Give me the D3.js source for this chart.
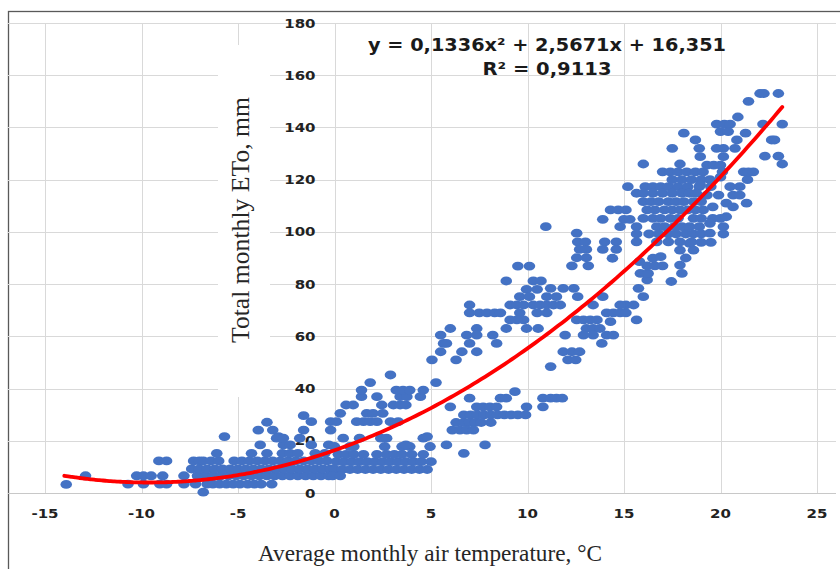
<!DOCTYPE html>
<html>
<head>
<meta charset="utf-8">
<script src="https://cdn.jsdelivr.net/npm/d3@7"></script>
<style>
  body { margin: 0; background: #fff; }
  svg { display: block; }
</style>
</head>
<body>
<svg id="chart"></svg>
<script>
// axis ticks
const xTicks = [-15, -10, -5, 0, 5, 10, 15, 20, 25];
const yTicks = [0, 20, 40, 60, 80, 100, 120, 140, 160, 180];

// polynomial trendline, as printed on the chart: c0 + c1*x + c2*x^2
const trendCoef = [16.351, 2.5671, 0.1336];
const trendRange = [-14, 23.2];
const equationText = 'y = 0,1336x² + 2,5671x + 16,351';
const r2Text = 'R² = 0,9113';

// [average monthly temperature °C, total monthly ETo mm]
const coldPoints = [
  [-13.9,3.3],[-12.9,6.6],[-10.7,3.4],[-10.25,6.6],[-9.9,6.6],[-9.5,6.6],[-9.9,3.4],
  [-9.1,12.3],[-8.7,12.3],[-8.9,6.6],[-9.05,3.4],[-8.7,3.4],[-7.8,3.4],[-7.8,6.6],
  [-7.4,9.2],[-7.3,12.3],[-7.0,12.3],[-6.8,0.3]
];

const winterPoints = [
  [-7.2,3.4],[-6.6,3.4],[-6.3,3.4],[-5.95,3.4],[-5.6,3.4],[-5.25,3.4],[-4.9,3.4],[-4.5,3.4],
  [-4.15,3.4],[-3.8,3.4],[-3.25,3.4],
  [-7.1,6.6],[-6.7,6.6],[-6.3,6.6],[-5.9,6.6],[-5.5,6.6],[-5.1,6.6],[-4.7,6.6],[-4.3,6.6],
  [-3.9,6.6],[-3.5,6.6],[-3.1,6.6],[-2.7,6.6],[-2.3,6.6],[-1.9,6.6],[-1.5,6.6],[-1.1,6.6],
  [-0.7,6.6],[-0.3,6.6],
  [-7.0,9.2],[-6.6,9.2],[-6.2,9.2],[-5.8,9.2],[-5.4,9.2],[-5.0,9.2],[-4.6,9.2],[-4.2,9.2],
  [-3.8,9.2],[-3.4,9.2],[-3.0,9.2],[-2.6,9.2],[-2.2,9.2],[-1.8,9.2],[-1.4,9.2],[-1.0,9.2],
  [-0.6,9.2],[-0.2,9.2],
  [-6.8,12.3],[-6.4,12.3],[-6.0,12.3],[-5.2,12.3],[-4.8,12.3],[-4.4,12.3],[-4.0,12.3],
  [-3.6,12.3],[-3.2,12.3],[-2.8,12.3],[-2.4,12.3],[-2.0,12.3],[-1.6,12.3],[-1.2,12.3],
  [-0.8,12.3],[-0.4,12.3],
  [-6.1,15.2],[-4.3,15.2],[-3.5,15.2],[-2.7,15.2],[-2.3,15.2],[-1.9,15.2],[-1.0,15.2],[-0.5,15.2],
  [-3.85,18.4],[-2.65,18.4],[-2.3,18.4],[-1.2,18.4],[-0.3,18.4],
  [-5.7,21.6],[-3.95,24.1],[-3.5,27.1],[-3.2,24.1],[-2.9,21.6],[-1.6,29.6],[-1.2,27.3],
  [-1.6,24.1],[-1.8,21.0],[-3.0,21.0],[-2.65,21.0]
];

const springPoints = [
  [0.0,9.0],[0.4,9.0],[0.8,9.0],[1.2,9.0],[1.6,9.0],[2.0,9.0],[2.4,9.0],[2.8,9.0],[3.2,9.0],
  [3.6,9.0],[4.0,9.0],[4.4,9.0],[4.8,9.0],
  [0.1,12.0],[0.5,12.0],[0.9,12.0],[1.3,12.0],[1.7,12.0],[2.1,12.0],[2.5,12.0],[2.9,12.0],
  [3.3,12.0],[3.7,12.0],[4.1,12.0],[4.5,12.0],[5.0,12.0],
  [0.2,14.8],[0.6,14.8],[1.0,14.8],[1.5,14.8],[2.2,14.8],[2.7,14.8],[3.1,14.8],[3.5,14.8],
  [4.0,14.8],[4.6,14.8],
  [0.0,17.8],[0.8,17.8],[1.0,17.8],[2.6,17.8],[3.5,17.8],[3.9,17.8],[4.95,17.8],
  [0.45,21.0],[1.3,21.0],[2.4,21.0],[2.7,21.0],[4.6,21.0],[4.8,21.6],[3.7,18.4],[5.8,18.4],
  [6.7,15.2],[7.8,18.4],[-0.1,6.6],[0.3,6.6],
  [-0.2,27.3],[0.1,27.3],[1.15,27.3],[1.5,27.3],[1.85,27.3],[2.2,27.3],[2.9,27.3],[3.3,27.3],
  [-0.2,24.1],[0.3,30.5],[1.67,30.5],[2.0,30.5],[2.5,30.5],
  [0.6,33.7],[0.97,33.7],[2.45,33.7],[3.05,33.7],[3.4,33.7],[3.7,33.7],
  [1.4,36.9],[2.2,36.9],[3.4,36.9],[3.75,36.9],[4.45,36.9],
  [1.4,39.4],[3.2,39.4],[3.55,39.4],[3.9,39.4],[4.6,39.4],
  [1.85,42.3],[2.9,45.2],[5.26,42.3]
];

const warmPoints = [
  [5.05,51.0],[5.5,54.1],[5.65,57.3],[5.8,57.3],[5.5,60.5],[6.0,63.0],[6.3,51.0],[6.6,54.1],
  [7.0,57.3],[6.85,60.5],[7.37,63.0],[7.37,60.5],[7.37,54.1],[8.2,60.5],[8.4,57.3],
  [7.0,72.0],[7.0,69.0],[7.5,69.0],[7.9,69.0],[8.3,69.0],[8.6,69.0],
  [9.1,72.0],[9.45,72.0],[9.8,72.0],[9.6,69.0],[9.8,66.3],[9.45,66.3],[9.1,66.3],[8.9,63.0],
  [9.95,63.0],[10.55,63.0],[10.3,72.0],[10.65,72.0],[11.0,72.0],[11.35,72.0],[11.7,72.0],
  [10.5,69.0],[11.0,69.0],[11.2,48.4],
  [9.35,38.8],[7.0,36.3],[8.6,36.3],[8.9,36.3],[10.8,36.3],[11.2,36.3],[11.5,36.3],[11.8,36.3],
  [6.0,33.0],[7.37,33.0],[7.7,33.0],[8.05,33.0],[8.4,33.0],[9.95,33.0],[10.8,33.0],
  [6.7,29.9],[7.05,29.9],[7.4,29.9],[7.75,29.9],[8.1,29.9],[8.45,29.9],[8.8,29.9],[9.15,29.9],
  [9.5,29.9],[9.9,29.9],
  [6.3,27.0],[6.7,27.0],[7.0,27.0],[7.3,27.0],[7.6,27.0],[8.1,27.0],
  [6.1,24.1],[6.5,24.1],[6.85,24.1],[7.2,24.1],
  [10.95,102.0],[9.5,86.9],[10.1,86.9],[8.9,81.2],[10.3,81.2],[10.7,81.2],
  [9.95,78.0],[10.5,78.0],[11.2,78.4],[11.85,78.4],[12.4,78.4],
  [9.6,75.2],[10.1,75.2],[11.0,75.2],[11.5,75.2],[12.6,75.2],[13.9,75.2],[13.4,72.0],
  [12.55,99.5],[12.6,96.2],[13.0,96.2],[12.7,93.3],[13.05,93.3],[12.55,90.1],[13.05,90.1],
  [12.3,87.0],[13.15,87.0],[14.0,96.2],[14.6,96.2],[13.9,93.3],[14.6,93.3],[14.4,89.9],
  [12.55,66.3],[12.9,66.3],[13.25,66.3],[13.6,66.3],[14.1,69.0],[14.45,69.0],[14.8,69.0],
  [15.1,69.0],[15.1,72.0],[15.5,72.0],[14.8,72.0],[15.65,66.3],[16.0,75.2],
  [13.05,63.0],[13.4,63.0],[13.75,63.0],[13.4,60.5],[14.1,60.5],[14.45,60.5],[13.85,57.3],
  [14.3,65.6],[11.95,60.5],[12.9,60.5],[11.85,54.1],[12.3,54.1],[12.7,54.1],[12.1,51.0],[12.5,51.0]
];

const summerPoints = [
  [15.75,78.4],[16.2,81.6],[15.85,84.1],[16.25,84.1],[16.2,87.0],[16.6,87.0],[17.0,87.0],
  [16.5,89.9],[17.45,81.0],[18.0,84.1],[15.8,88.6],[16.9,90.5],[17.9,87.3],[17.9,93.0],
  [18.6,93.0],[18.4,95.6],[18.2,90.0],
  [16.7,102.0],[17.1,102.0],[17.6,102.0],[16.7,96.2],[17.3,96.2],[17.9,96.2],[18.5,96.2],
  [14.3,108.4],[14.7,108.4],[15.1,108.4],[13.9,104.8],[15.0,104.8],[15.3,104.8],[14.8,102.0],
  [15.65,102.0],[15.65,99.2],[15.65,96.2],
  [15.2,117.3],[16.1,117.3],[16.5,117.3],[16.9,117.3],[17.3,117.3],[17.8,117.3],[18.3,117.3],
  [18.9,117.3],[19.5,117.3],[20.5,117.3],[21.0,117.3],
  [15.65,114.8],[16.0,114.8],[16.5,114.8],[17.0,114.8],[17.5,114.8],[18.0,114.8],[18.4,114.8],
  [18.75,114.8],[19.3,114.1],[19.9,114.1],[20.65,114.1],[21.0,114.1],
  [16.0,111.6],[16.4,111.6],[16.8,111.6],[17.3,111.6],[17.7,111.6],[18.1,111.6],[18.6,111.6],
  [19.0,111.6],[20.3,111.0],[21.35,111.0],
  [16.2,108.4],[16.6,108.4],[17.1,108.4],[17.5,108.4],[17.9,108.4],[18.3,108.4],[18.7,108.4],
  [19.1,108.4],[19.6,109.6],[20.65,109.6],
  [16.0,105.2],[16.5,105.2],[16.9,105.2],[17.4,105.2],[17.8,105.2],[18.6,105.2],[19.0,105.2],
  [19.6,105.2],[20.0,105.2],[20.3,105.8],
  [18.0,102.0],[18.4,102.0],[18.9,102.0],[19.45,103.3],[20.15,102.0],
  [16.3,99.2],[16.8,99.2],[17.3,99.2],[17.7,99.2],[18.2,99.2],[18.6,99.2],[19.0,99.2],
  [19.45,99.5],[20.15,99.2],[19.0,96.0],[19.5,96.0],
  [16.0,126.0],[17.9,126.0],[17.0,123.0],[17.4,123.0],[17.8,123.0],[18.25,123.0],[18.7,123.0],
  [19.1,123.0],[17.5,120.0],[18.0,120.0],[18.5,120.0],[19.0,120.0],[19.45,120.0],[20.0,121.0],
  [21.4,120.0],[18.95,118.0],
  [18.1,137.8],[18.7,135.2],[18.9,132.0],[18.95,128.8],[17.5,132.0],[19.8,132.0],[20.15,132.0],
  [20.85,135.2],[20.75,132.0],[20.15,128.8],[19.3,125.6],[19.65,125.6],[20.0,125.6],
  [20.1,123.0],[21.2,123.0],[21.45,123.0],[21.7,123.0],
  [22.05,153.0],[22.25,153.0],[23.0,153.0],[21.45,150.0],[20.9,144.0],[19.8,141.3],[20.2,141.3],
  [20.5,141.3],[22.2,141.3],[23.2,141.3],[20.0,138.4],[20.4,138.4],[21.3,137.8],[22.65,135.2],
  [22.8,135.2],[22.3,129.0],[23.0,129.0],[23.2,126.0]
];

const points = [...coldPoints, ...winterPoints, ...springPoints, ...warmPoints, ...summerPoints];

const width = 840, height = 569;
const plot = { left: 8, right: 836, top: 23, bottom: 493 };

const svg = d3.select('#chart')
  .attr('width', width)
  .attr('height', height);

const x = d3.scaleLinear().domain([-15, 25]).range([45, 817]);
const y = d3.scaleLinear().domain([0, 180]).range([plot.bottom, plot.top]);

// outer chart frame
svg.append('rect')
  .attr('x', 8.5).attr('y', 11.5)
  .attr('width', 840).attr('height', 570)
  .attr('fill', 'none')
  .attr('stroke', '#595959')
  .attr('stroke-width', 1.3);

// gridlines
svg.append('g')
  .selectAll('line')
  .data(yTicks.filter(d => d > 0))
  .join('line')
  .attr('x1', plot.left).attr('x2', plot.right)
  .attr('y1', d => Math.round(y(d)) + 0.5).attr('y2', d => Math.round(y(d)) + 0.5)
  .attr('stroke', '#d9d9d9');

svg.append('g')
  .selectAll('line')
  .data(xTicks)
  .join('line')
  .attr('x1', d => Math.round(x(d)) + 0.5).attr('x2', d => Math.round(x(d)) + 0.5)
  .attr('y1', plot.top).attr('y2', plot.bottom)
  .attr('stroke', '#d9d9d9');

// x axis line
svg.append('line')
  .attr('x1', plot.left).attr('x2', plot.right)
  .attr('y1', Math.round(y(0)) + 0.5).attr('y2', Math.round(y(0)) + 0.5)
  .attr('stroke', '#c8c8c8');

// white box behind the y axis title
svg.append('rect')
  .attr('x', 218).attr('y', 45)
  .attr('width', 52).attr('height', 352)
  .attr('fill', '#fff');

// tick labels (the source image is stretched sideways, so the glyphs are too)
const tickFont = g => g
  .attr('font-family', '"DejaVu Sans", Verdana, sans-serif')
  .attr('font-weight', 'bold')
  .attr('font-size', 12.5)
  .attr('fill', '#222');

svg.append('g').call(tickFont)
  .selectAll('text')
  .data(yTicks)
  .join('text')
  .attr('transform', d => `translate(${x(0) - 19},${y(d)}) scale(1.2,1)`)
  .attr('dy', '0.36em')
  .attr('text-anchor', 'end')
  .text(d => String(d));

svg.append('g').call(tickFont)
  .selectAll('text')
  .data(xTicks)
  .join('text')
  .attr('transform', d => `translate(${x(d)},513) scale(1.2,1)`)
  .attr('dy', '0.36em')
  .attr('text-anchor', 'middle')
  .text(d => String(d));

// scatter
svg.append('g')
  .selectAll('ellipse')
  .data(points)
  .join('ellipse')
  .attr('cx', d => x(d[0]))
  .attr('cy', d => y(d[1]))
  .attr('rx', 5.8)
  .attr('ry', 4.4)
  .attr('fill', '#4472c4');

// trendline
const trend = t => trendCoef[0] + trendCoef[1] * t + trendCoef[2] * t * t;
const trendXs = d3.range(trendRange[0], trendRange[1] + 0.001, 0.2);
svg.append('path')
  .datum(trendXs)
  .attr('fill', 'none')
  .attr('stroke', '#ff0000')
  .attr('stroke-width', 3.8)
  .attr('stroke-linecap', 'round')
  .attr('d', d3.line().x(t => x(t)).y(t => y(trend(t))).curve(d3.curveMonotoneX));

// equation label
const eqFont = g => g
  .attr('font-family', '"DejaVu Sans", Verdana, sans-serif')
  .attr('font-weight', 'bold')
  .attr('font-size', 17)
  .attr('fill', '#1a1a1a')
  .attr('text-anchor', 'middle')
  .attr('lengthAdjust', 'spacingAndGlyphs');

svg.append('text').call(eqFont)
  .attr('x', 547).attr('y', 51)
  .attr('textLength', 358)
  .text(equationText);

svg.append('text').call(eqFont)
  .attr('x', 547).attr('y', 75)
  .attr('textLength', 129)
  .text(r2Text);

// axis titles
svg.append('text')
  .attr('transform', 'translate(249,220) rotate(-90)')
  .attr('text-anchor', 'middle')
  .attr('font-family', '"Liberation Serif", "Times New Roman", serif')
  .attr('font-size', 25)
  .attr('fill', '#262626')
  .attr('textLength', 246)
  .attr('lengthAdjust', 'spacingAndGlyphs')
  .text('Total monthly ETo, mm');

svg.append('text')
  .attr('x', 430).attr('y', 561)
  .attr('text-anchor', 'middle')
  .attr('font-family', '"Liberation Serif", "Times New Roman", serif')
  .attr('font-size', 23)
  .attr('fill', '#262626')
  .attr('textLength', 344)
  .attr('lengthAdjust', 'spacingAndGlyphs')
  .text('Average monthly air temperature, °C');
</script>
</body>
</html>
